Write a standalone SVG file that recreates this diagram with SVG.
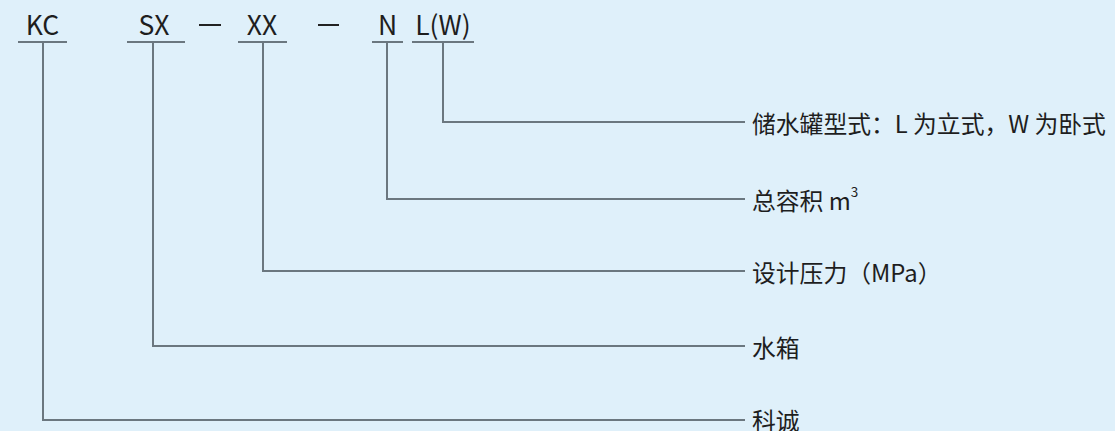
<svg xmlns="http://www.w3.org/2000/svg" width="1115" height="431" viewBox="0 0 1115 431">
<style>
.bg{fill:#dff0fa}
.ln{fill:none;stroke:#6b777f;stroke-width:2}
.dash{fill:none;stroke:#222;stroke-width:2}
.code{font-family:"Noto Sans CJK SC","Noto Sans",sans-serif;font-size:26.5px;fill:#1e1e1e;text-anchor:middle}
.lab{font-family:"Noto Sans CJK SC","Noto Sans",sans-serif;font-size:23.8px;fill:#1e1e1e;dominant-baseline:central}
</style>
<rect class="bg" x="0" y="0" width="1115" height="431"/>
<g id="code-KC"><text class="code" x="42.5" y="35">KC</text><line class="ln" x1="18" y1="42" x2="67" y2="42"/></g>
<g id="code-SX"><text class="code" x="154" y="35">SX</text><line class="ln" x1="127" y1="42" x2="185" y2="42"/></g>
<g id="dash1"><line class="dash" x1="199" y1="25" x2="221" y2="25"/></g>
<g id="code-XX"><text class="code" x="262" y="35">XX</text><line class="ln" x1="238" y1="42" x2="287" y2="42"/></g>
<g id="dash2"><line class="dash" x1="318" y1="25" x2="339" y2="25"/></g>
<g id="code-N"><text class="code" x="387.5" y="35">N</text><line class="ln" x1="372" y1="42" x2="403" y2="42"/></g>
<g id="code-LW"><text class="code" x="443" y="35">L(W)</text><line class="ln" x1="412" y1="42" x2="474" y2="42"/></g>
<g id="label-type"><text class="lab" x="752" y="122">储水罐型式：L 为立式，W 为卧式</text></g>
<g id="label-volume"><text class="lab" x="752" y="199">总容积 m<tspan font-size="13.5" dy="-8">3</tspan></text></g>
<g id="label-pressure"><text class="lab" x="752" y="271">设计压力（MPa）</text></g>
<g id="label-tank"><text class="lab" x="752" y="346">水箱</text></g>
<g id="label-brand"><text class="lab" x="752" y="419">科诚</text></g>
<g id="connectors">
<polyline class="ln" points="443,42 443,122 745,122"/>
<polyline class="ln" points="387,42 387,199 745,199"/>
<polyline class="ln" points="263,42 263,271 745,271"/>
<polyline class="ln" points="153,42 153,346 745,346"/>
<polyline class="ln" points="43,42 43,420 745,420"/>
</g>
</svg>
